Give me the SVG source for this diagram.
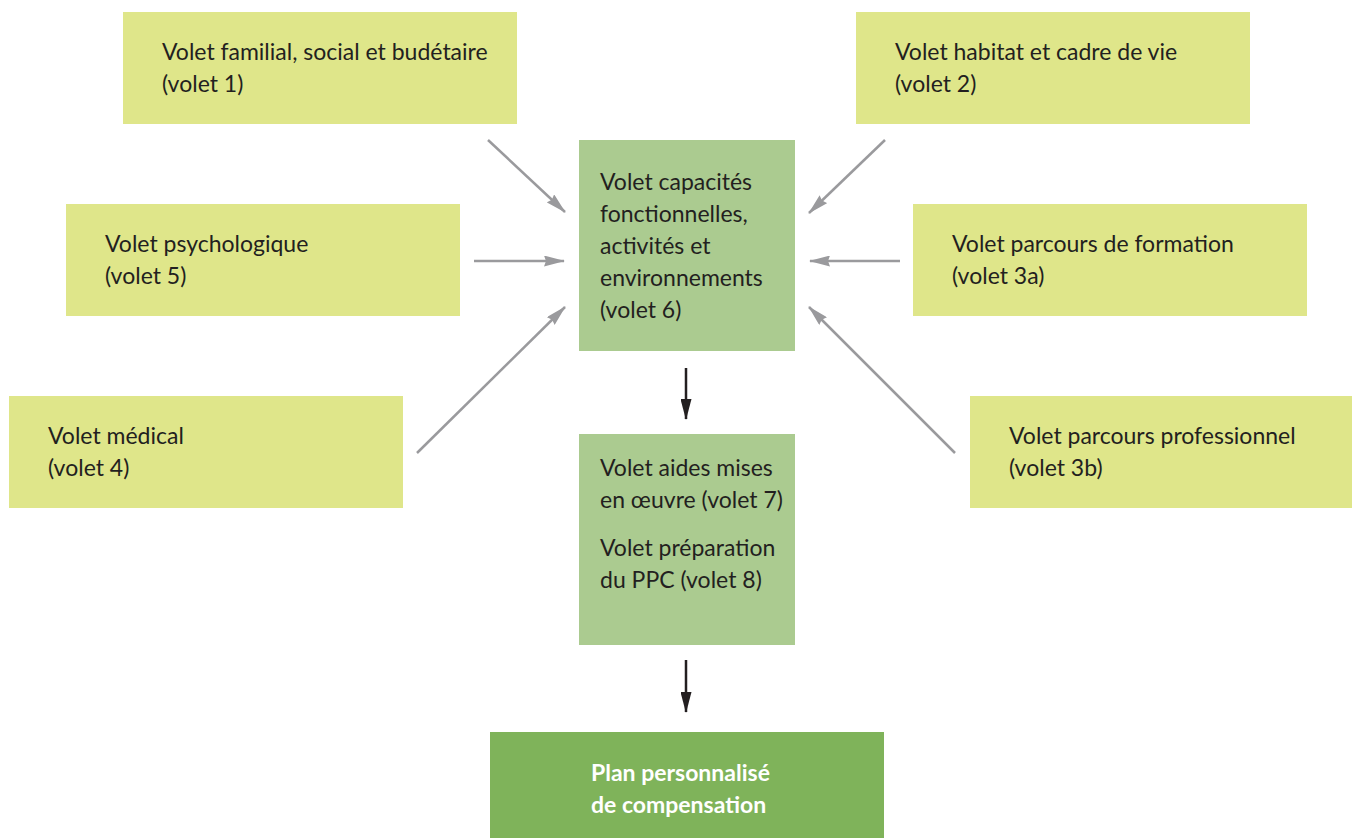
<svg xmlns="http://www.w3.org/2000/svg" width="1352" height="838" viewBox="0 0 1352 838">
<style>
.y{fill:#dfe68a}
.g{fill:#abcb90}
.p{fill:#7fb35a}
.t{font-family:Lato,"Open Sans",sans-serif;font-size:23px;fill:#231f20}
.w{font-family:Lato,"Open Sans",sans-serif;font-size:23px;font-weight:bold;fill:#ffffff}
.c{stroke:#9a9a9d;stroke-width:2.5;fill:none;marker-end:url(#ag)}
.k{stroke:#231f20;stroke-width:2.5;fill:none;marker-end:url(#ak)}
</style>
<defs>
<marker id="ag" viewBox="0 0 21 11" markerWidth="21" markerHeight="11" refX="20" refY="5.5" orient="auto" markerUnits="userSpaceOnUse">
<path d="M0,0 L21,5.5 L0,11 L2,5.5 Z" fill="#9a9a9d"/>
</marker>
<marker id="ak" viewBox="0 0 21 11" markerWidth="21" markerHeight="11" refX="20" refY="5.5" orient="auto" markerUnits="userSpaceOnUse">
<path d="M0,0 L21,5.5 L0,11 Z" fill="#231f20"/>
</marker>
</defs>
<rect width="1352" height="838" fill="#ffffff"/>
<g id="connectors">
<line class="c" x1="488" y1="140" x2="565" y2="212"/>
<line class="c" x1="474" y1="261" x2="564" y2="261"/>
<line class="c" x1="417" y1="453" x2="565" y2="307"/>
<line class="c" x1="885" y1="140" x2="809" y2="213"/>
<line class="c" x1="900" y1="261" x2="810" y2="261"/>
<line class="c" x1="955" y1="453" x2="809" y2="307"/>
<line class="k" x1="686" y1="368" x2="686" y2="419"/>
<line class="k" x1="686" y1="660" x2="686" y2="712"/>
</g>
<g id="volet1"><rect class="y" x="123" y="12" width="394" height="112"/><text class="t" x="162" y="60">Volet familial, social et budétaire</text><text class="t" x="162" y="92">(volet 1)</text></g>
<g id="volet2"><rect class="y" x="856" y="12" width="394" height="112"/><text class="t" x="895" y="60">Volet habitat et cadre de vie</text><text class="t" x="895" y="92">(volet 2)</text></g>
<g id="volet5"><rect class="y" x="66" y="204" width="394" height="112"/><text class="t" x="105" y="252">Volet psychologique</text><text class="t" x="105" y="284">(volet 5)</text></g>
<g id="volet3a"><rect class="y" x="913" y="204" width="394" height="112"/><text class="t" x="952" y="252">Volet parcours de formation</text><text class="t" x="952" y="284">(volet 3a)</text></g>
<g id="volet4"><rect class="y" x="9" y="396" width="394" height="112"/><text class="t" x="48" y="444">Volet médical</text><text class="t" x="48" y="476">(volet 4)</text></g>
<g id="volet3b"><rect class="y" x="970" y="396" width="394" height="112"/><text class="t" x="1009" y="444">Volet parcours professionnel</text><text class="t" x="1009" y="476">(volet 3b)</text></g>
<g id="volet6"><rect class="g" x="579" y="140" width="216" height="211"/>
<text class="t" x="600" y="190">Volet capacités</text>
<text class="t" x="600" y="222">fonctionnelles,</text>
<text class="t" x="600" y="254">activités et</text>
<text class="t" x="600" y="286">environnements</text>
<text class="t" x="600" y="318">(volet 6)</text></g>
<g id="volet78"><rect class="g" x="579" y="434" width="216" height="211"/>
<text class="t" x="600" y="476">Volet aides mises</text>
<text class="t" x="600" y="508">en œuvre (volet 7)</text>
<text class="t" x="600" y="556">Volet préparation</text>
<text class="t" x="600" y="588">du PPC (volet 8)</text></g>
<g id="ppc"><rect class="p" x="490" y="732" width="394" height="106"/>
<text class="w" x="591" y="781">Plan personnalisé</text>
<text class="w" x="591" y="813">de compensation</text></g>
</svg>
